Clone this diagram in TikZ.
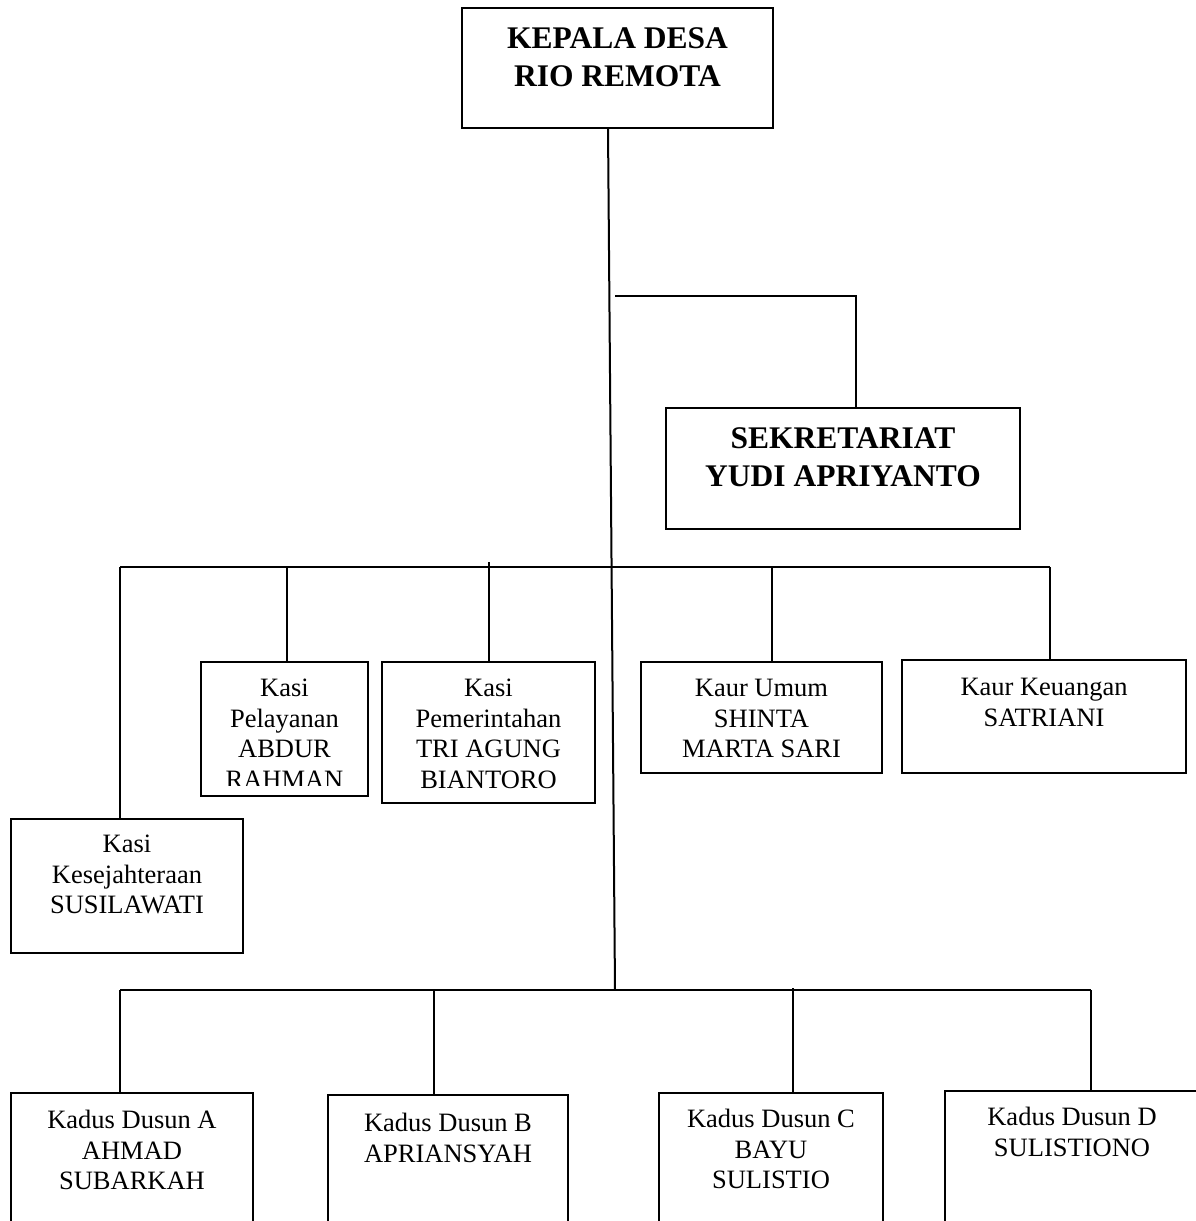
\documentclass[tikz,border=0pt]{standalone}
\usepackage{fontspec}
\setmainfont{Liberation Serif}
\tikzset{
	box/.style = {draw, line width = 2pt, anchor = north west, inner sep = 0pt, outer sep = 0pt},
	name text/.style = {anchor = north, align = center, inner sep = 0pt, font = \fontsize{26.5}{30.5}\selectfont},
	head text/.style = {anchor = north, align = center, inner sep = 0pt, font = \bfseries\fontsize{31.5}{38}\selectfont},
	link/.style = {line width = 2pt}
}

\begin{document}
\begin{tikzpicture}[x = 1pt, y = -1pt]
		\useasboundingbox (0, 0) rectangle (1196, 1221);
		\clip (0, 0) rectangle (1196, 1221);

		\node [box, minimum width = 311pt, minimum height = 120pt] (kades) at (462, 8) {};
		\node [head text] (kades text) at ([yshift = -19pt]kades.north) {KEPALA DESA\\RIO REMOTA};

		\node [box, minimum width = 354pt, minimum height = 121pt] (sekdes) at (666, 408) {};
		\node [head text] (sekdes text) at ([yshift = -19pt]sekdes.north) {SEKRETARIAT\\YUDI APRIYANTO};

		\node [box, minimum width = 167pt, minimum height = 134pt] (pelayanan) at (201, 662) {};
		\begin{scope}
			\clip (pelayanan.north west) rectangle ([yshift = 11pt]pelayanan.south east);
			\node [name text] (pelayanan text) at ([yshift = -17pt]pelayanan.north) {Kasi\\Pelayanan\\ABDUR\\RAHMAN};
		\end{scope}

		\node [box, minimum width = 213pt, minimum height = 141pt] (pemerintahan) at (382, 662) {};
		\node [name text] (pemerintahan text) at ([yshift = -17pt]pemerintahan.north) {Kasi\\Pemerintahan\\TRI AGUNG\\BIANTORO};

		\node [box, minimum width = 241pt, minimum height = 111pt] (umum) at (641, 662) {};
		\node [name text] (umum text) at ([yshift = -17pt]umum.north) {Kaur Umum\\SHINTA\\MARTA SARI};

		\node [box, minimum width = 284pt, minimum height = 113pt] (keuangan) at (902, 660) {};
		\node [name text] (keuangan text) at ([yshift = -18pt]keuangan.north) {Kaur Keuangan\\SATRIANI};

		\node [box, minimum width = 232pt, minimum height = 134pt] (kesejahteraan) at (11, 819) {};
		\node [name text] (kesejahteraan text) at ([yshift = -16pt]kesejahteraan.north) {Kasi\\Kesejahteraan\\SUSILAWATI};

		\node [box, minimum width = 242pt, minimum height = 150pt] (dusunA) at (11, 1093) {};
		\node [name text] (dusunA text) at ([yshift = -17pt]dusunA.north) {Kadus Dusun A\\AHMAD\\SUBARKAH};
		\node [box, minimum width = 240pt, minimum height = 150pt] (dusunB) at (328, 1095) {};
		\node [name text] (dusunB text) at ([yshift = -18pt]dusunB.north) {Kadus Dusun B\\APRIANSYAH};
		\node [box, minimum width = 224pt, minimum height = 150pt] (dusunC) at (659, 1093) {};
		\node [name text] (dusunC text) at ([yshift = -16pt]dusunC.north) {Kadus Dusun C\\BAYU\\SULISTIO};
		\node [box, minimum width = 254pt, minimum height = 150pt] (dusunD) at (945, 1091) {};
		\node [name text] (dusunD text) at ([yshift = -16pt]dusunD.north) {Kadus Dusun D\\SULISTIONO};

		\coordinate (trunk) at (615, 990);
		\coordinate (sek) at (615, 296);
		\coordinate (kasiL) at (120, 567);
		\coordinate (kasiR) at (1050, 567);
		\coordinate (dusL) at (120, 990);
		\coordinate (dusR) at (1091, 990);

		\draw [link] ([xshift = -9.5pt]kades.south) -- (trunk);
		\draw [link] (sek) -| ([xshift = 13pt]sekdes.north);

		\draw [link] (kasiL) -- (kasiR);
		\draw [link] (kasiL) -- (kasiL |- kesejahteraan.north);
		\draw [link] ([xshift = 2.5pt]pelayanan.north) -- ([xshift = 2.5pt]pelayanan.north |- kasiL);
		\draw [link] (pemerintahan.north) -- ++(0, -100);
		\draw [link] ([xshift = 10.5pt]umum.north) -- ([xshift = 10.5pt]umum.north |- kasiL);
		\draw [link] (kasiR) -- (kasiR |- keuangan.north);

		\draw [link, line width = 2.5pt] (dusL) -- (dusR);
		\draw [link] (dusL) -- (dusL |- dusunA.north);
		\draw [link] ([xshift = -14pt]dusunB.north) -- ([xshift = -14pt]dusunB.north |- dusL);
		\draw [link] ([xshift = 22pt]dusunC.north) -- ++(0, -105);
		\draw [link] (dusR) -- (dusR |- dusunD.north);
	\end{tikzpicture}
\end{document}
